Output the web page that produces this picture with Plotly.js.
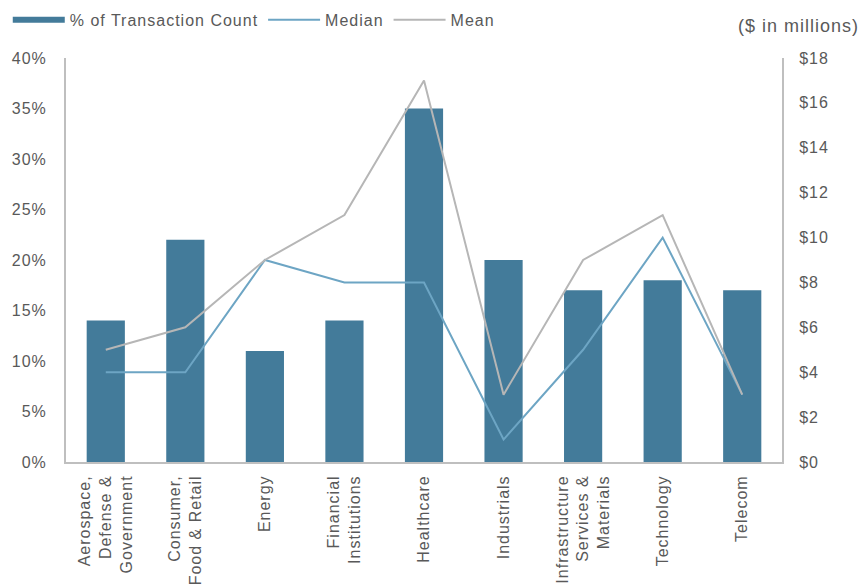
<!DOCTYPE html>
<html>
<head>
<meta charset="utf-8">
<script src="https://cdn.plot.ly/plotly-3.0.1.min.js"></script>
<style>
  html, body { margin: 0; padding: 0; background: #fff; }
  #chart { width: 863px; height: 584px; }
  text { letter-spacing: 1px; }
</style>
</head>
<body>
<div id="chart"></div>
<script>
const categories = [
  "Aerospace,<br>Defense &<br>Government",
  "Consumer,<br>Food & Retail",
  "Energy",
  "Financial<br>Institutions",
  "Healthcare",
  "Industrials",
  "Infrastructure<br>Services &<br>Materials",
  "Technology",
  "Telecom"
];
const transactionPct = [0.14, 0.22, 0.11, 0.14, 0.35, 0.20, 0.17, 0.18, 0.17];
const medianValues = [4, 4, 9, 8, 8, 1, 5, 10, 3];
const meanValues = [5, 6, 9, 11, 17, 3, 9, 11, 3];

const barColor = "#437B9A";
const medianColor = "#6DA5C4";
const meanColor = "#B6B6B6";
const textColor = "#595959";
const axisColor = "#BFBFBF";
const fontFamily = "Liberation Sans, Arial, sans-serif";

const traces = [
  {
    type: "bar",
    x: categories,
    y: transactionPct,
    marker: { color: barColor },
    showlegend: false,
    hoverinfo: "skip"
  },
  {
    type: "scatter",
    mode: "lines",
    x: [null],
    y: [null],
    name: "% of Transaction Count",
    line: { color: barColor, width: 6 },
    showlegend: true
  },
  {
    type: "scatter",
    mode: "lines",
    x: categories,
    y: medianValues,
    yaxis: "y2",
    name: "Median",
    line: { color: medianColor, width: 2 }
  },
  {
    type: "scatter",
    mode: "lines",
    x: categories,
    y: meanValues,
    yaxis: "y2",
    name: "Mean",
    line: { color: meanColor, width: 2 }
  }
];

const layout = {
  width: 863,
  height: 584,
  margin: { l: 66, r: 81, t: 58, b: 122 },
  paper_bgcolor: "#ffffff",
  plot_bgcolor: "#ffffff",
  font: { family: fontFamily, size: 16, color: textColor },
  bargap: 0.52,
  showlegend: true,
  legend: {
    orientation: "h",
    xref: "container",
    yref: "container",
    x: 0.009,
    y: 0.995,
    xanchor: "left",
    yanchor: "top",
    font: { family: fontFamily, size: 16, color: textColor },
    itemwidth: 52,
    tracegroupgap: 0,
    bgcolor: "rgba(0,0,0,0)"
  },
  xaxis: {
    type: "category",
    tickangle: -90,
    showgrid: false,
    showline: true,
    linecolor: axisColor,
    linewidth: 2,
    ticks: "",
    ticklabelstandoff: 5,
    tickfont: { family: fontFamily, size: 16, color: textColor },
    fixedrange: true
  },
  yaxis: {
    range: [0, 0.4],
    dtick: 0.05,
    tickformat: ".0%",
    showgrid: false,
    zeroline: false,
    showline: true,
    linecolor: axisColor,
    linewidth: 2,
    ticks: "",
    ticklabelstandoff: 14,
    tickfont: { family: fontFamily, size: 16, color: textColor }
  },
  yaxis2: {
    overlaying: "y",
    side: "right",
    range: [0, 18],
    dtick: 2,
    tickprefix: "$",
    showgrid: false,
    zeroline: false,
    showline: true,
    linecolor: axisColor,
    linewidth: 2,
    ticks: "",
    ticklabelstandoff: 12,
    tickfont: { family: fontFamily, size: 16, color: textColor }
  },
  annotations: [
    {
      text: "($ in millions)",
      xref: "paper",
      yref: "paper",
      x: 1.11,
      y: 1.08,
      xanchor: "right",
      yanchor: "middle",
      showarrow: false,
      font: { family: fontFamily, size: 18, color: textColor }
    }
  ]
};

Plotly.newPlot("chart", traces, layout, { displayModeBar: false, staticPlot: true });
</script>
</body>
</html>
